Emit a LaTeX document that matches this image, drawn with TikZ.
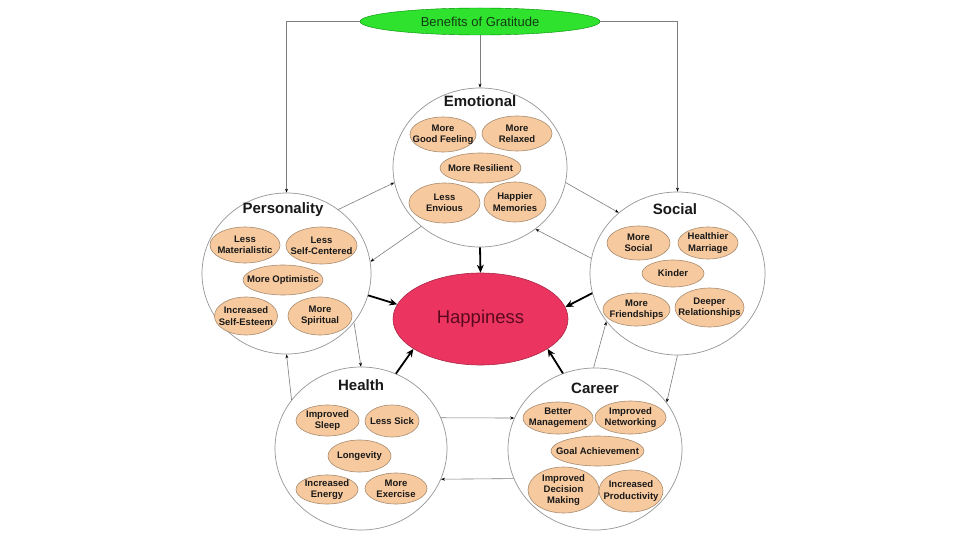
\documentclass[tikz,border=0pt]{standalone}
\usepackage{fontspec}
\setmainfont{Liberation Sans}
\usetikzlibrary{shapes.geometric,arrows.meta}
\definecolor{bengreen}{RGB}{46,226,46}
\definecolor{bentext}{RGB}{20,60,20}
\definecolor{happyfill}{RGB}{236,52,96}
\definecolor{happydraw}{RGB}{170,40,70}
\definecolor{happytext}{RGB}{90,10,30}
\definecolor{pillfill}{RGB}{247,201,158}
\definecolor{pilldraw}{RGB}{168,140,112}
\definecolor{circdraw}{RGB}{150,150,150}
\definecolor{conn}{RGB}{125,125,125}
\newcommand\mypill[5]{\node[pillbox,minimum width=#3pt,minimum height=#4pt,label={[pilltext]center:#5}] (#1) at (#2) {};}
\begin{document}
\begin{tikzpicture}[x=1pt,y=-1pt,
  bigcirc/.style={ellipse,draw=circdraw,fill=white,line width=0.7pt,inner sep=0pt},
  pillbox/.style={ellipse,draw=pilldraw,fill=pillfill,line width=0.6pt,inner sep=0pt},
  pilltext/.style={font=\fontsize{9.5}{11.3}\selectfont\bfseries,text=black!90,align=center,inner sep=0pt},
  titletext/.style={font=\fontsize{15}{17}\selectfont\bfseries,text=black!90,inner sep=0pt},
  thinarrow/.style={draw=conn,line width=0.6pt,-{Stealth[length=4pt,width=3pt,black]}},
  thickarrow/.style={draw=black,line width=1.8pt,-{Stealth[length=8pt,width=7pt]}}]
\fill[white] (0,0) rectangle (960,540);
\useasboundingbox (0,0) rectangle (960,540);

% banner
\node[ellipse,fill=bengreen,draw=green!55!black,line width=0.4pt,minimum width=240pt,minimum height=27pt,inner sep=0pt,
  font=\fontsize{13}{15}\selectfont,text=bentext] (ben) at (480,21.5) {Benefits of Gratitude};

% big circles
\node[bigcirc,minimum width=174pt,minimum height=159pt] (emo) at (480,167.5) {};
\node[bigcirc,minimum width=169pt,minimum height=161pt] (pers) at (286.5,273.5) {};
\node[bigcirc,minimum width=175pt,minimum height=163pt] (soc) at (677.5,273.5) {};
\node[bigcirc,minimum width=172pt,minimum height=163pt] (hea) at (361,448.5) {};
\node[bigcirc,minimum width=174pt,minimum height=162pt] (car) at (595,449) {};

% happiness
\node[ellipse,fill=happyfill,draw=happydraw,line width=0.6pt,minimum width=175pt,minimum height=92pt,inner sep=0pt,
  font=\fontsize{18.5}{21}\selectfont,text=happytext] (hap) at (480.5,319) {Happiness};

% titles
\node[titletext] (emoT) at (480,101) {Emotional};
\node[titletext] (persT) at (283,210) {Personality};
\node[titletext] (socT) at (675,209) {Social};
\node[titletext] (heaT) at (361,385) {Health};
\node[titletext] (carT) at (595,388) {Career};

% emotional
\mypill{e1}{443,134.5}{66}{35}{More\\Good Feeling}
\mypill{e2}{517,133.5}{70}{35}{More\\Relaxed}
\mypill{e3}{480.5,168}{81}{30}{More Resilient}
\mypill{e4}{444.5,203}{71}{40}{Less\\Envious}
\mypill{e5}{515,202}{62}{40}{Happier\\Memories}
% personality
\mypill{p1}{245,245}{70}{36}{Less\\Materialistic}
\mypill{p2}{321.5,245.5}{71}{37}{Less\\Self-Centered}
\mypill{p3}{283,280}{80}{30}{More Optimistic}
\mypill{p4}{246,316}{63}{38}{Increased\\Self-Esteem}
\mypill{p5}{320,316}{64}{38}{More\\Spiritual}
% social
\mypill{s1}{638.5,243}{63}{34}{More\\Social}
\mypill{s2}{708,243}{60}{32}{Healthier\\Marriage}
\mypill{s3}{673,273.5}{62}{27}{Kinder}
\mypill{s4}{636.5,309.5}{67}{33}{More\\Friendships}
\mypill{s5}{709.5,307.5}{69}{39}{Deeper\\Relationships}
% health
\mypill{h1}{327.5,420.5}{63}{31}{Improved\\Sleep}
\mypill{h2}{392,421}{54}{32}{Less Sick}
\mypill{h3}{359.5,456}{63}{32}{Longevity}
\mypill{h4}{327,489.5}{62}{29}{Increased\\Energy}
\mypill{h5}{396,488.5}{62}{31}{More\\Exercise}
% career
\mypill{c1}{558,418}{70}{32}{Better\\Management}
\mypill{c2}{630.5,417.5}{71}{33}{Improved\\Networking}
\mypill{c3}{597.5,451}{93}{30}{Goal Achievement}
\mypill{c4}{563.5,490}{71}{46}{Improved\\Decision\\Making}
\mypill{c5}{631,491}{64}{42}{Increased\\Productivity}

% banner connectors
\draw[thinarrow] (ben.west) -| (pers.north);
\draw[thinarrow] (ben.east) -| (soc.north);
\draw[thinarrow] (ben.south) -- (emo.north);

% circle-to-circle connectors
\draw[thinarrow] (pers.51) -- (emo.190);
\draw[thinarrow] (emo.225) -- (pers.8);
\draw[thinarrow] (emo.350) -- (soc.134);
\draw[thinarrow] (soc.170) -- (emo.312);
\draw[thinarrow] (car.91) -- (soc.214);
\draw[thinarrow] (soc.270) -- (car.33);
\draw[thinarrow] (hea.21) -- (car.159);
\draw[thinarrow] (car.200) -- (hea.339);
\draw[thinarrow] (pers.324) -- (hea.90);
\draw[thinarrow] (hea.145) -- (pers.270);

% to happiness
\draw[thickarrow] (emo.south) -- (hap.north);
\draw[thickarrow] (pers.345) -- (hap.170);
\draw[thickarrow] (soc.193) -- (hap.8);
\draw[thickarrow] (hea.65) -- (hap.204);
\draw[thickarrow] (car.113) -- (hap.336);
\end{tikzpicture}
\end{document}
